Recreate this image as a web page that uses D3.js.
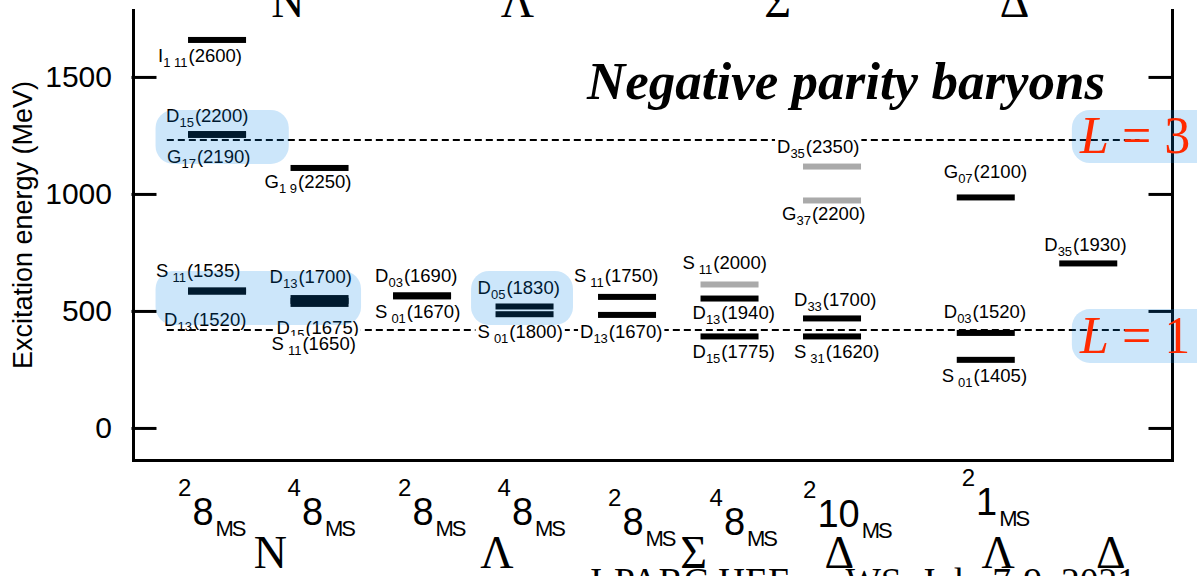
<!DOCTYPE html>
<html>
<head>
<meta charset="utf-8">
<script src="https://cdnjs.cloudflare.com/ajax/libs/d3/7.8.5/d3.min.js"></script>
<style>
  html, body { margin: 0; padding: 0; background: #fff; }
  svg { display: block; }
  .sans { font-family: 'Liberation Sans', Arial, Helvetica, sans-serif; }
  .serif { font-family: 'Liberation Serif', 'Times New Roman', serif; }
  .axis path, .axis line { stroke: #000; stroke-width: 3; stroke-linecap: square; }
  .axis text { font-family: 'Liberation Sans', Arial, sans-serif; font-size: 30px; fill: #000; }
  .lvl-label { font-size: 18.5px; fill: #000; }
</style>
</head>
<body>
<div id="chart"></div>
<script>
// ---- data ----------------------------------------------------------------

// multiplet columns along the x axis
var columnSlots  = [0, 1, 2, 3, 4, 5, 6, 7.5, 8.5];
var columnSpin   = ['2', '4', '2', '4', '2', '4', '2', '2', ''];
var columnFlavor = ['8', '8', '8', '8', '8', '8', '10', '1', ''];

// levels: column, wave, subscript, mass (MeV), excitation energy (MeV), label side, tentative
var levels = [
  [0, 'I', '1 11', 2600, 1658, 'below', false],
  [0, 'D', '15',   2200, 1256, 'above', false],
  [0, 'G', '17',   2190, 1252, 'below', false],
  [0, 'S', '11',   1535,  588, 'above', false],
  [0, 'D', '13',   1520,  582, 'below', false],
  [1, 'G', '1 9',  2250, 1111, 'below', false],
  [1, 'D', '13',   1700,  555, 'above', false],
  [1, 'D', '15',   1675,  543, 'below', false],
  [1, 'S', '11',   1650,  530, 'below', false],
  [2, 'D', '03',   1690,  567, 'above', false],
  [2, 'S', '01',   1670,  562, 'below', false],
  [3, 'D', '05',   1830,  519, 'above', false],
  [3, 'S', '01',   1800,  486, 'below', false],
  [4, 'S', '11',   1750,  560, 'above', false],
  [4, 'D', '13',   1670,  483, 'below', false],
  [5, 'S', '11',   2000,  613, 'above', true],
  [5, 'D', '13',   1940,  553, 'below', false],
  [5, 'D', '15',   1775,  391, 'below', false],
  [6, 'D', '35',   2350, 1117, 'above', true],
  [6, 'G', '37',   2200,  972, 'below', true],
  [6, 'D', '33',   1700,  468, 'above', false],
  [6, 'S', '31',   1620,  391, 'below', false],
  [7, 'G', '07',   2100,  985, 'above', false],
  [7, 'D', '03',   1520,  406, 'above', false],
  [7, 'S', '01',   1405,  291, 'below', false],
  [8, 'D', '35',   1930,  703, 'above', false]
];

// oscillator shells (dashed lines)
var shellEnergy = [1230, 418];
var shellName   = ['3', '1'];

var energyTicks = [0, 500, 1000, 1500];

// baryon names above and below the plot
var topNames    = ['N', '\u039B', '\u03A3', '\u0394'];
var topSlots    = [0.69, 2.93, 5.47, 7.78];
var bottomNames = ['N', '\u039B', '\u03A3', '\u0394', '\u039B', '\u0394'];
var bottomSlots = [0.52, 2.73, 4.65, 6.07, 7.62, 8.72];

// ---- layout ----------------------------------------------------------------
var width = 1197, height = 576;
var plotLeft = 133, plotRight = 1172, plotTop = 10, plotBottom = 460;

// small hand tweaks for the level labels (px), same order as levels
var labelDx = [-12, -4, -3, -14, -6, -8, -3, 4, -1, 0, 0, 0, 0, -6, 0, 0, 10, 10, -8, -3, 9, 9, 5, 5, 3, 3];
var labelDy = [0, 3, 6, 2, 12, -2, 0, 11, 24, 2, 0, 3, 2, 0, 1, 0, -2, 0, 1, -2, 3, 0, -4, 0, 0, 3];

// category label tweaks: start offset from column centre, baseline
var catDx = [-39, -32, -24, -27, -19, -20, -29, -24];
var catBase = [525, 525, 525, 525, 535, 535, 527, 515];

// translucent highlight boxes, in slot / MeV units
var boxes = [
  [-0.6, 0.7, 1128, 1359],
  [-0.6, 1.405, 440, 671],
  [2.478, 3.473, 440, 671],
  [8.34, 9.9, 1132, 1359],
  [8.34, 9.9, 278, 508]
];

var x = d3.scaleLinear().domain([-0.82, 9.317]).range([plotLeft, plotRight]);
var y = d3.scaleLinear().domain([-137, 1786]).range([plotBottom, plotTop]);

var barHalf = (x(1) - x(0)) * 0.283;

var svg = d3.select('#chart').append('svg')
  .attr('width', width)
  .attr('height', height);

svg.append('rect').attr('width', width).attr('height', height).attr('fill', '#fff');

// ---- shell lines -------------------------------------------------------------
svg.append('g').selectAll('line')
  .data(shellEnergy)
  .enter().append('line')
  .attr('x1', x(-0.49))
  .attr('x2', x(9.0))
  .attr('y1', function(d) { return y(d); })
  .attr('y2', function(d) { return y(d); })
  .attr('stroke', '#000')
  .attr('stroke-width', 2)
  .attr('stroke-dasharray', '7,4');

// ---- axes ----------------------------------------------------------------
svg.append('g')
  .attr('class', 'axis')
  .attr('transform', 'translate(' + plotLeft + ',0)')
  .call(d3.axisLeft(y).tickValues(energyTicks).tickFormat(d3.format('d'))
    .tickSizeInner(-22).tickSizeOuter(0).tickPadding(21));

svg.append('g')
  .attr('class', 'axis')
  .attr('transform', 'translate(' + plotRight + ',0)')
  .call(d3.axisRight(y).tickValues(energyTicks).tickSizeInner(-22).tickSizeOuter(0).tickFormat(''));

svg.append('g')
  .attr('class', 'axis')
  .attr('transform', 'translate(0,' + plotBottom + ')')
  .call(d3.axisBottom(x).tickValues([]).tickSizeOuter(0));

svg.append('text')
  .attr('class', 'sans')
  .attr('transform', 'translate(32,225)rotate(-90)')
  .attr('text-anchor', 'middle')
  .attr('font-size', 27)
  .text('Excitation energy (MeV)');

// ---- levels --------------------------------------------------------------
svg.append('g').selectAll('rect')
  .data(levels)
  .enter().append('rect')
  .attr('x', function(d) { return x(columnSlots[d[0]]) - barHalf; })
  .attr('width', barHalf * 2)
  .attr('y', function(d) { return y(d[4]) - 3; })
  .attr('height', 6)
  .attr('fill', function(d) { return d[6] ? '#aaaaaa' : '#000'; });

var labelLayer = svg.append('g').attr('class', 'sans');

levels.forEach(function(d, i) {
  var cx = x(columnSlots[d[0]]);
  var base = d[5] === 'above' ? y(d[4]) - 15 : y(d[4]) + 22;
  base += labelDy[i];

  var g = labelLayer.append('g');
  var t = g.append('text')
    .attr('class', 'lvl-label')
    .attr('x', cx - 47 + labelDx[i])
    .attr('y', base);
  t.append('tspan').text(d[1]);
  t.append('tspan')
    .attr('font-size', 13)
    .attr('dx', d[1] === 'S' ? 4 : 0)
    .attr('dy', 5)
    .text(d[2]);
  t.append('tspan')
    .attr('dx', 1)
    .attr('dy', -5)
    .text('(' + d[3] + ')');

  // white band behind the text hides the dashed line
  var bb = t.node().getBBox();
  g.insert('rect', 'text')
    .attr('x', bb.x - 2)
    .attr('width', bb.width + 4)
    .attr('y', base - 14)
    .attr('height', 16)
    .attr('fill', '#fff');
});

// ---- multiplet labels under the axis -----------------------------------------
var catLayer = svg.append('g').attr('class', 'sans');
columnSlots.forEach(function(s, i) {
  if (!columnFlavor[i]) return;
  var t = catLayer.append('text')
    .attr('x', x(s) + catDx[i])
    .attr('y', catBase[i]);
  t.append('tspan').attr('font-size', 24).attr('dy', -29).text(columnSpin[i]);
  t.append('tspan').attr('font-size', 38).attr('dy', 29).attr('dx', 1).text(columnFlavor[i]);
  t.append('tspan')
    .attr('font-size', 22)
    .attr('dy', 11)
    .attr('dx', 2)
    .attr('letter-spacing', -2)
    .text('MS');
});

// baryon names
svg.append('g').attr('class', 'serif').selectAll('text')
  .data(topNames)
  .enter().append('text')
  .attr('x', function(d, i) { return x(topSlots[i]); })
  .attr('y', 17)
  .attr('text-anchor', 'middle')
  .attr('font-size', 46)
  .text(function(d) { return d; });

svg.append('g').attr('class', 'serif').selectAll('text')
  .data(bottomNames)
  .enter().append('text')
  .attr('x', function(d, i) { return x(bottomSlots[i]); })
  .attr('y', 568)
  .attr('text-anchor', 'middle')
  .attr('font-size', 46)
  .text(function(d) { return d; });

// ---- highlight boxes on top ------------------------------------------------
svg.append('g').selectAll('rect')
  .data(boxes)
  .enter().append('rect')
  .attr('x', function(d) { return x(d[0]); })
  .attr('width', function(d) { return x(d[1]) - x(d[0]); })
  .attr('y', function(d) { return y(d[3]); })
  .attr('height', function(d) { return y(d[2]) - y(d[3]); })
  .attr('rx', 18)
  .attr('fill', 'rgba(0,130,230,0.2)');

// L = n labels
shellName.forEach(function(n, i) {
  var b = boxes[3 + i];
  var t = svg.append('text')
    .attr('class', 'serif')
    .attr('x', x(8.42))
    .attr('y', (y(b[2]) + y(b[3])) / 2 + 17)
    .attr('font-size', 52)
    .attr('fill', '#ff2a00')
    .attr('xml:space', 'preserve');
  t.append('tspan').attr('font-style', 'italic').text('L');
  t.append('tspan').text(' = ' + n);
});

// title and footer
svg.append('text')
  .attr('class', 'serif')
  .attr('x', 587)
  .attr('y', 99)
  .attr('font-size', 53)
  .attr('font-weight', 'bold')
  .attr('font-style', 'italic')
  .text('Negative parity baryons');

svg.append('text')
  .attr('class', 'serif')
  .attr('x', 587)
  .attr('y', 594)
  .attr('font-size', 37.5)
  .text('J-PARC HEF-ex WS, July 7-9, 2021');
</script>
</body>
</html>
